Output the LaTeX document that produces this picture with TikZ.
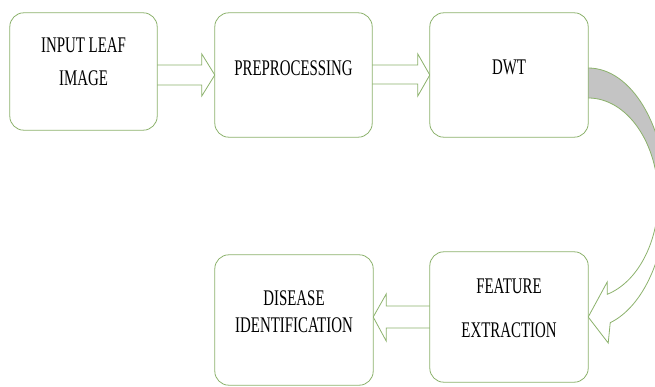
\documentclass[tikz,border=0pt]{standalone}
\usepackage{fontspec}
\setmainfont{Liberation Serif}
\usetikzlibrary{calc}
\definecolor{boxgreen}{RGB}{140,178,108}
\definecolor{backgray}{RGB}{196,196,196}
\newcommand\stretchtxt[1]{\scalebox{1}[1.5]{#1}}
\begin{document}
\begin{tikzpicture}[x=1pt,y=1pt,
  box/.style={draw=boxgreen, line width=0.8pt, rounded corners=14pt, fill=white, inner sep=0pt},
  txt/.style={inner sep=0pt, font=\fontsize{14.9}{17.6}\selectfont, text=black},
  blockarrow/.style={draw=boxgreen, line width=0.8pt, fill=white, line join=miter},
  bandline/.style={draw=boxgreen, line width=0.8pt}]
\useasboundingbox (0,0) rectangle (655,386);
\clip (0,0) rectangle (655,386);
% box positions (placed first as invisible anchors)
\path (83.5,314.5) node[minimum width=147pt, minimum height=117pt, inner sep=0pt] (b1) {};
\path (293.5,311) node[minimum width=157pt, minimum height=124pt, inner sep=0pt] (b2) {};
\path (509,311) node[minimum width=158pt, minimum height=124pt, inner sep=0pt] (b3) {};
\path (509,69) node[minimum width=158pt, minimum height=130pt, inner sep=0pt] (b4) {};
\path (294,66) node[minimum width=158pt, minimum height=130pt, inner sep=0pt] (b5) {};
\coordinate (C) at ($(b3.east)!0.5!(b4.east)+(0,-2)$);
% curved arrow: back (gray) part
\fill[backgray] ([yshift=7]b3.east) arc[start angle=90, end angle=0, x radius=78pt, y radius=130pt]
  -- ++(-8,0) arc[start angle=0, end angle=90, x radius=70pt, y radius=100pt] -- cycle;
\draw[bandline] ([yshift=7]b3.east) arc[start angle=90, end angle=0, x radius=78pt, y radius=130pt];
\draw[bandline] ([yshift=-23]b3.east) arc[start angle=90, end angle=0, x radius=70pt, y radius=100pt];
% curved arrow: front part with head
\draw[blockarrow] ($(C)+(78,0)$) arc[start angle=0, end angle=-73.6, x radius=78pt, y radius=130pt]
  -- ($(b4.east)+(20,-26)$) -- (b4.east) -- ($(b4.east)+(19,35)$)
  -- ($(C)+(19,-96.3)$) arc[start angle=-74.3, end angle=0, x radius=70pt, y radius=100pt] -- cycle;
% straight block arrows
\draw[blockarrow] ($(b1.east|-b2.west)+(0,10)$) -- ($(b2.west)+(-13,10)$) -- ($(b2.west)+(-13,21)$)
  -- (b2.west) -- ($(b2.west)+(-13,-21)$) -- ($(b2.west)+(-13,-10)$) -- ($(b1.east|-b2.west)+(0,-10)$);
\draw[blockarrow] ($(b2.east)+(0,10)$) -- ($(b3.west)+(-12,10)$) -- ($(b3.west)+(-12,21)$)
  -- (b3.west) -- ($(b3.west)+(-12,-21)$) -- ($(b3.west)+(-12,-9)$) -- ($(b2.east)+(0,-9)$);
\draw[blockarrow] ($(b4.west)+(0,11)$) -- ($(b5.east|-b4.west)+(13,11)$) -- ($(b5.east|-b4.west)+(13,23)$)
  -- (b5.east|-b4.west) -- ($(b5.east|-b4.west)+(13,-24)$) -- ($(b5.east|-b4.west)+(13,-11)$) -- ($(b4.west)+(0,-11)$);
% boxes
\draw[box] (b1.south west) rectangle (b1.north east);
\draw[box] (b2.south west) rectangle (b2.north east);
\draw[box] (b3.south west) rectangle (b3.north east);
\draw[box] (b4.south west) rectangle (b4.north east);
\draw[box] (b5.south west) rectangle (b5.north east);
% texts
\node[txt] (t1) at ($(b1.center)+(0,8)$) {\stretchtxt{\begin{tabular}{@{}c@{}}INPUT LEAF\\[4.4pt]IMAGE\end{tabular}}};
\node[txt] (t2) at ($(b2.center)+(0,7)$) {\stretchtxt{PREPROCESSING}};
\node[txt] (t3) at ($(b3.center)+(0,8)$) {\stretchtxt{DWT}};
\node[txt] (t4) at ($(b4.center)+(0,7)$) {\stretchtxt{\begin{tabular}{@{}c@{}}FEATURE\\[11.7pt]EXTRACTION\end{tabular}}};
\node[txt] (t5) at ($(b5.center)+(0,6.5)$) {\stretchtxt{\begin{tabular}{@{}c@{}}DISEASE\\[0.4pt]IDENTIFICATION\end{tabular}}};
\end{tikzpicture}
\end{document}
